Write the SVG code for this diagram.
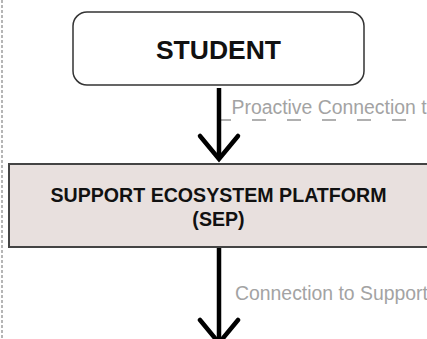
<svg xmlns="http://www.w3.org/2000/svg" width="427" height="339" viewBox="0 0 427 339">
  <style>
    .node-title { font-family: "Liberation Sans", Arial, sans-serif; font-weight: bold; fill: #111; text-anchor: middle; }
    .edge-label { font-family: "Liberation Sans", Arial, sans-serif; font-size: 19.4px; fill: #a3a3a3; }
    .flow { stroke: #000; stroke-width: 4.5; fill: none; }
    .chevron { stroke: #000; stroke-width: 4.5; fill: none; stroke-linejoin: miter; stroke-linecap: round; }
  </style>

  <rect width="427" height="339" fill="#ffffff"/>

  <!-- page edge -->
  <line x1="2" y1="0" x2="2" y2="339" stroke="#b5b5b5" stroke-width="2" stroke-dasharray="3 2"/>

  <g id="connectors">
    <!-- side branch toward the support services -->
    <line x1="217" y1="120" x2="427" y2="120" stroke="#b0b0b0" stroke-width="2" stroke-dasharray="14 21"/>
    <!-- student to platform -->
    <line class="flow" x1="219" y1="88" x2="219" y2="158"/>
    <polyline class="chevron" points="200,136 219,159 238,136"/>
    <!-- platform onward -->
    <line class="flow" x1="219" y1="248" x2="219" y2="339"/>
    <polyline class="chevron" points="200,320 219,343 238,320"/>
    <text class="edge-label" x="231.5" y="114">Proactive Connection t</text>
    <text class="edge-label" x="235" y="300">Connection to Support</text>
  </g>

  <g id="student">
    <rect x="73" y="12" width="291" height="73" rx="14" ry="14" fill="#ffffff" stroke="#333" stroke-width="1.5"/>
    <text class="node-title" x="218.5" y="59" font-size="26.5">STUDENT</text>
  </g>

  <g id="sep">
    <rect x="9" y="164" width="430" height="83" fill="#e8e0de" stroke="#444" stroke-width="2"/>
    <text class="node-title" x="218.5" y="202" font-size="19.6">SUPPORT ECOSYSTEM PLATFORM</text>
    <text class="node-title" x="218.5" y="226" font-size="19.6">(SEP)</text>
  </g>
</svg>
